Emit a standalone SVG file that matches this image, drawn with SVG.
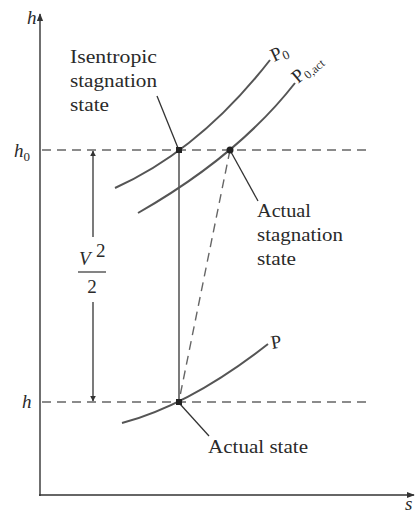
<svg xmlns="http://www.w3.org/2000/svg" width="416" height="515" viewBox="0 0 416 515">
<style>
.t{font-family:"Liberation Serif","Times New Roman",serif;fill:#2a2a2a;font-size:19px}
.i{font-style:italic}
.ax{stroke:#333;stroke-width:1.4;fill:none}
.cv{stroke:#555;stroke-width:2;fill:none}
.ds{stroke:#666;stroke-width:1.4;stroke-dasharray:9,6;fill:none}
.ln{stroke:#333;stroke-width:1.3;fill:none}
</style>
<defs>
<marker id="ah" viewBox="0 0 10 10" refX="9" refY="5" markerWidth="8" markerHeight="8" orient="auto" markerUnits="userSpaceOnUse"><path d="M0,1 L10,5 L0,9 Z" fill="#333"/></marker>
<marker id="sa" viewBox="0 0 10 10" refX="9" refY="5" markerWidth="6" markerHeight="6" orient="auto" markerUnits="userSpaceOnUse"><path d="M0,0 L10,5 L0,10 Z" fill="#333"/></marker>
</defs>
<g id="axes">
<line class="ax" x1="40" y1="496" x2="40" y2="14" marker-end="url(#ah)"/>
<line class="ax" x1="39" y1="495" x2="414" y2="495" marker-end="url(#ah)"/>
<text class="t i" x="27" y="24" font-size="17">h</text>
<text class="t i" x="405" y="510" font-size="15">s</text>
<text class="t i" x="14" y="157">h<tspan font-style="normal" font-size="13" dy="4">0</tspan></text>
<text class="t i" x="22" y="408">h</text>
</g>
<g id="connectors">
<line class="ds" x1="42" y1="150" x2="370" y2="150"/>
<line class="ds" x1="42" y1="402" x2="368" y2="402"/>
<line class="ln" x1="179" y1="150" x2="179" y2="402" stroke-width="1.6"/>
<line class="ds" x1="230" y1="150" x2="180" y2="396"/>
<line class="ln" x1="157" y1="96" x2="178" y2="148"/>
<line class="ln" x1="231" y1="152" x2="258" y2="201"/>
<line class="ln" x1="180" y1="404" x2="209" y2="436"/>
<line class="ln" x1="93" y1="237" x2="93" y2="151" marker-end="url(#sa)"/>
<line class="ln" x1="93" y1="302" x2="93" y2="401" marker-end="url(#sa)"/>
</g>
<g id="curve-p0">
<path class="cv" d="M115,188 Q200,150 270,60"/>
<text class="t" transform="translate(274,62) rotate(-25)" font-size="18">P<tspan font-size="13" dy="3">0</tspan></text>
</g>
<g id="curve-p0act">
<path class="cv" d="M138,213 Q238,156 295,83"/>
<text class="t" transform="translate(298,84) rotate(-40)" font-size="18">P<tspan font-size="12" dy="3">0,act</tspan></text>
</g>
<g id="curve-p">
<path class="cv" d="M122,423 Q190,405 268,344"/>
<text class="t" transform="translate(272,349) rotate(-10)" font-size="18">P</text>
</g>
<g id="isentropic-stagnation-state">
<rect x="176" y="147" width="6" height="6" fill="#222"/>
<text class="t" x="70" y="63" textLength="87" lengthAdjust="spacingAndGlyphs">Isentropic</text>
<text class="t" x="70" y="87" textLength="87" lengthAdjust="spacingAndGlyphs">stagnation</text>
<text class="t" x="70" y="111" textLength="39" lengthAdjust="spacingAndGlyphs">state</text>
</g>
<g id="actual-stagnation-state">
<circle cx="230" cy="150" r="3.5" fill="#222"/>
<text class="t" x="257" y="217" textLength="54" lengthAdjust="spacingAndGlyphs">Actual</text>
<text class="t" x="257" y="241" textLength="86" lengthAdjust="spacingAndGlyphs">stagnation</text>
<text class="t" x="257" y="265" textLength="39" lengthAdjust="spacingAndGlyphs">state</text>
</g>
<g id="actual-state">
<rect x="176" y="399" width="6" height="6" fill="#222"/>
<text class="t" x="208" y="453" textLength="100" lengthAdjust="spacingAndGlyphs">Actual state</text>
</g>
<g id="velocity-label">
<text class="t i" x="79" y="265">V</text>
<text class="t" x="96" y="257" font-size="13">2</text>
<line x1="78" y1="272" x2="106" y2="272" stroke="#333" stroke-width="1.2"/>
<text class="t" x="92" y="293" text-anchor="middle">2</text>
</g>
</svg>
